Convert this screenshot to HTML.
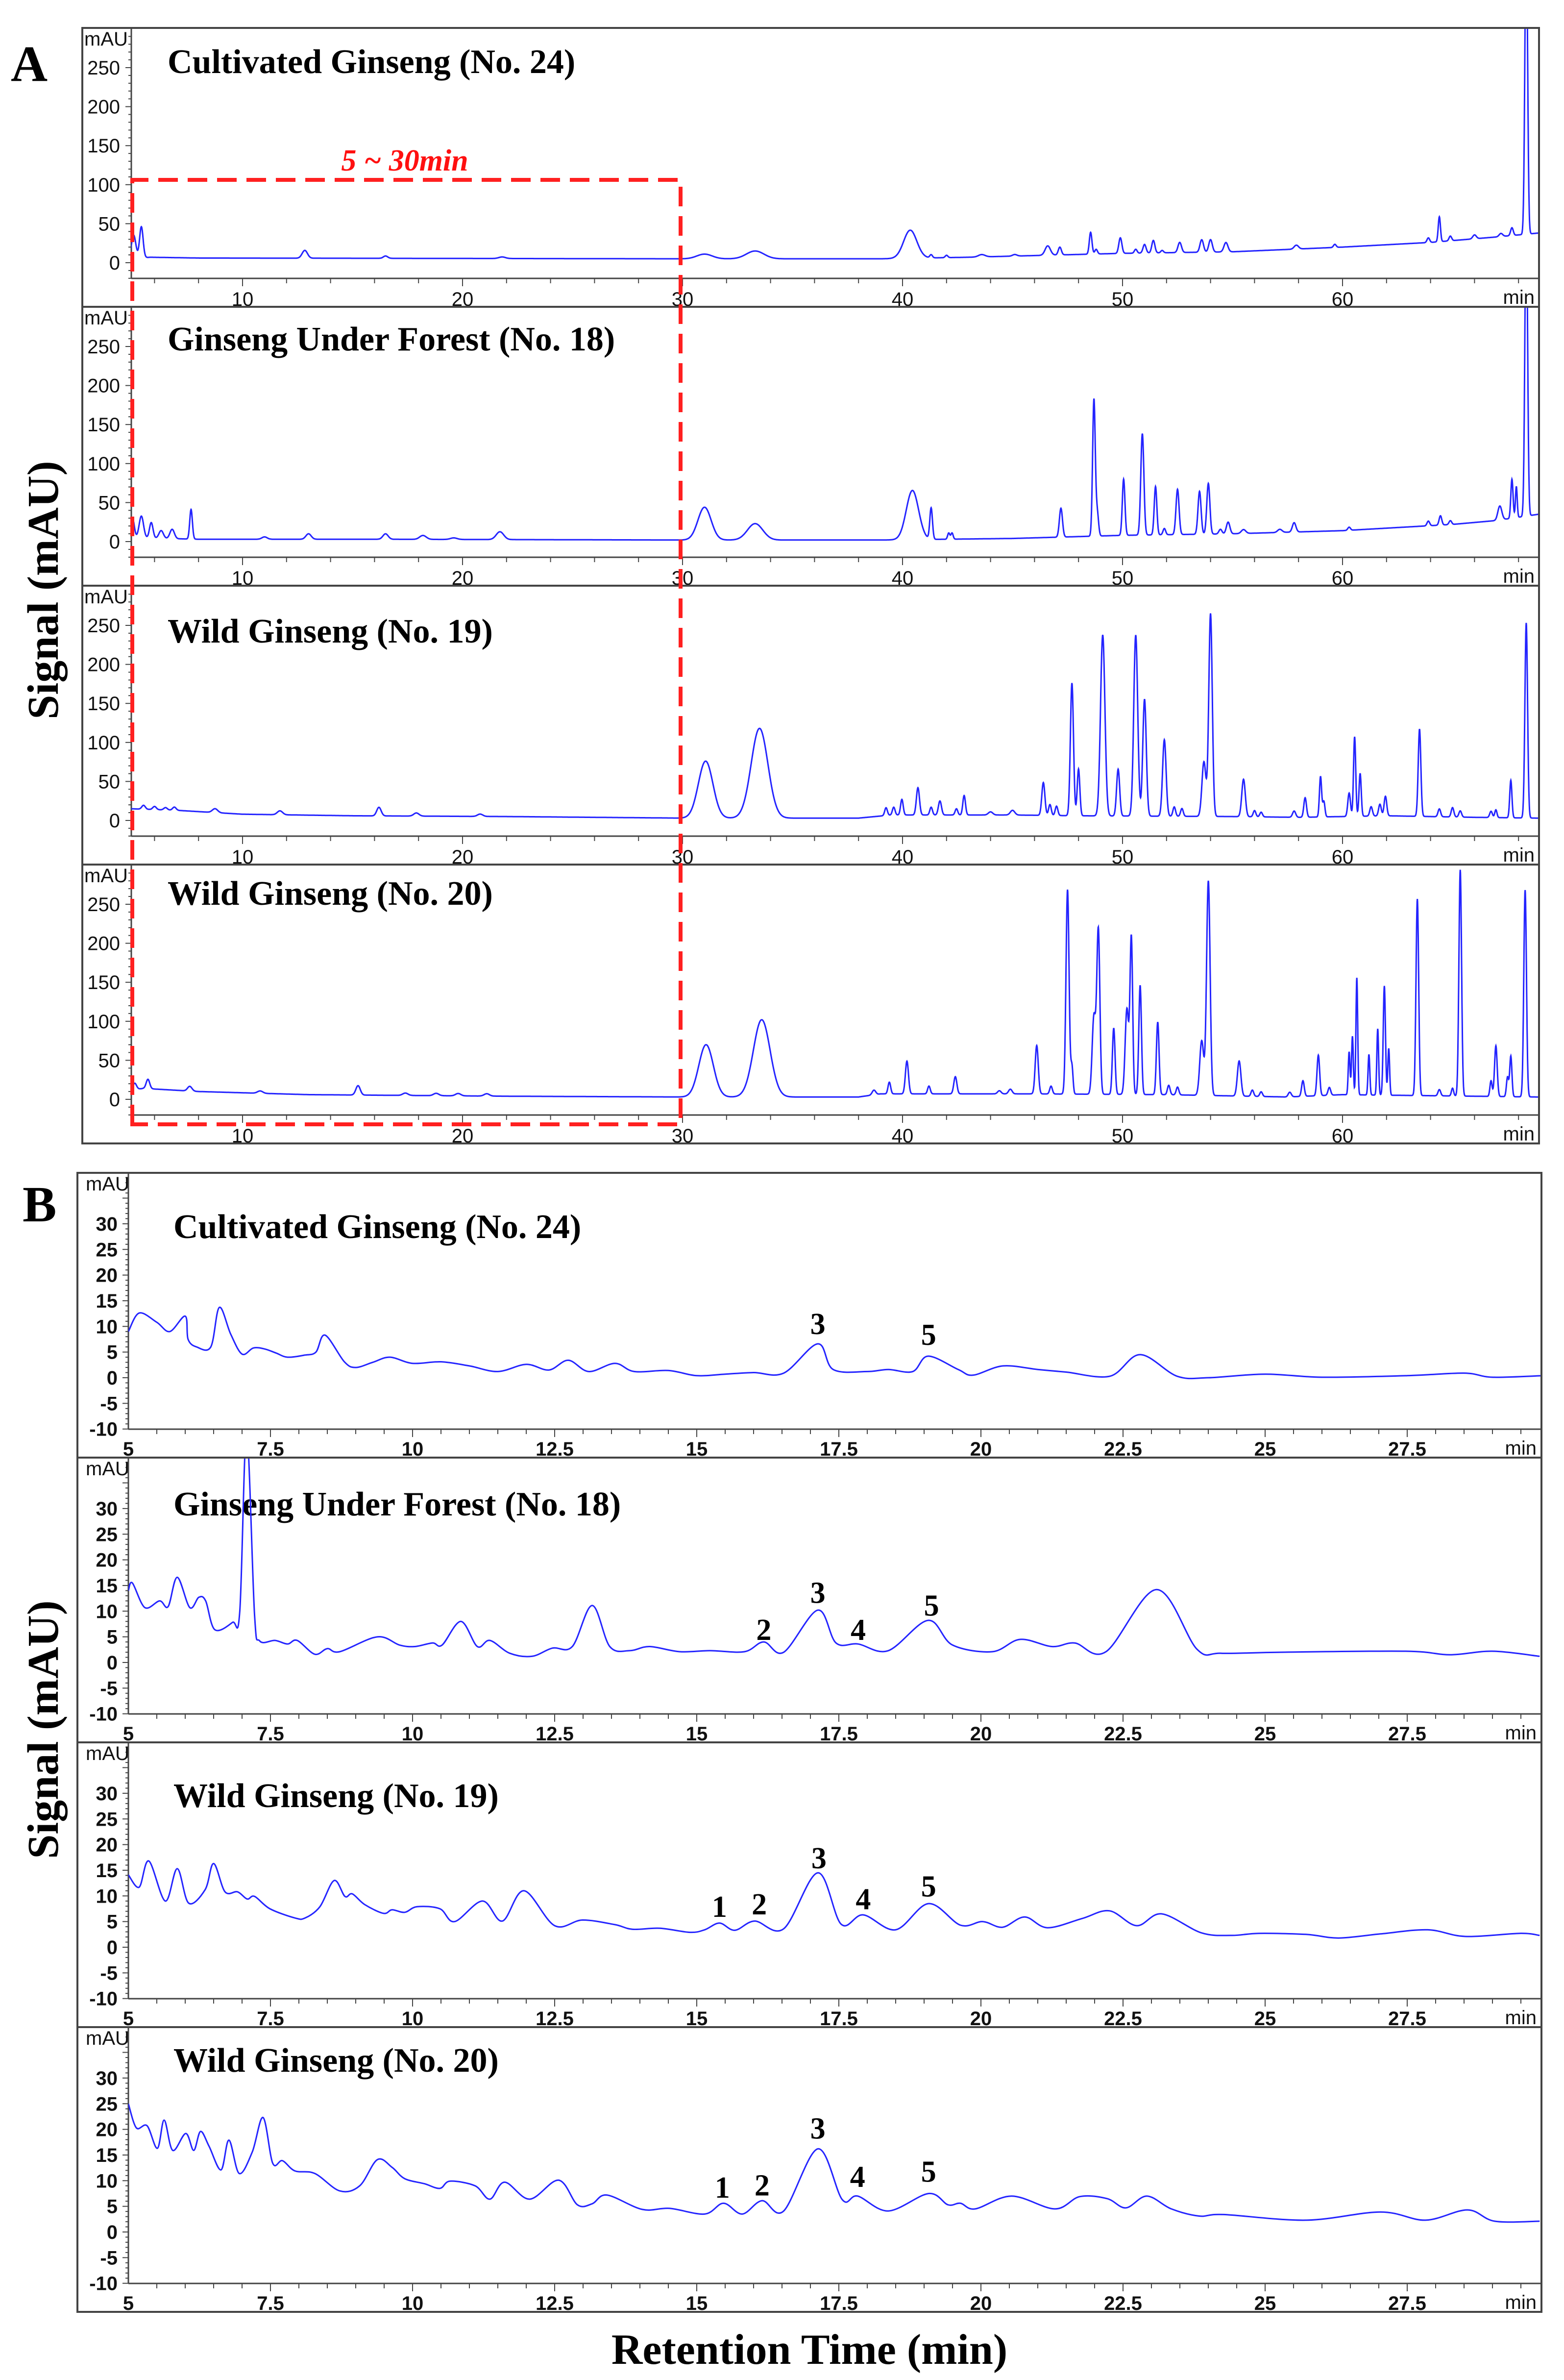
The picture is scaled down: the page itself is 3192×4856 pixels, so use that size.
<!DOCTYPE html>
<html><head><meta charset="utf-8">
<style>
html,body{margin:0;padding:0;background:#fff;}
svg{display:block;}
.tk{font-family:"Liberation Sans Narrow","Liberation Sans",sans-serif;font-size:40px;fill:#111;}
.ttl{font-family:"Liberation Serif",serif;font-weight:bold;font-size:70px;fill:#000;}
.num{font-family:"Liberation Serif",serif;font-weight:bold;font-size:62px;fill:#000;}
</style></head>
<body>
<svg id="chart" xmlns="http://www.w3.org/2000/svg" width="3192" height="4856" viewBox="0 0 3192 4856">
<rect x="0" y="0" width="3192" height="4856" fill="#fff"/>
<text x="22" y="165" font-family="Liberation Serif,serif" font-weight="bold" font-size="104">A</text>
<text x="46" y="2492" font-family="Liberation Serif,serif" font-weight="bold" font-size="104">B</text>
<text transform="translate(118,1204) rotate(-90)" text-anchor="middle" font-family="Liberation Serif,serif" font-weight="bold" font-size="90">Signal (mAU)</text>
<text transform="translate(118,3529) rotate(-90)" text-anchor="middle" font-family="Liberation Serif,serif" font-weight="bold" font-size="90">Signal (mAU)</text>
<text x="1652" y="4823" text-anchor="middle" font-family="Liberation Serif,serif" font-weight="bold" font-size="88">Retention Time (min)</text>
</svg>
<script>
// ---------- Panel A data (peaks: time, height above baseline, width sigma) ----------
const aTitles = ["Cultivated Ginseng (No. 24)","Ginseng Under Forest (No. 18)","Wild Ginseng (No. 19)","Wild Ginseng (No. 20)"];
const aTitleY = [149,715,1311,1846];
const aYTicks = [0,50,100,150,200,250];
const aXTicks = [10,20,30,40,50,60];

const a1BaseT = [4.9,5.8,8,30,39,43,50,55,60,64,67,68.9];
const a1BaseV = [5,7,6,5,5,7,12,14,20,26,33,38];
const a1PeakT = [5.05,5.4,12.83,16.5,21.8,31.0,33.3,40.35,41.3,42.0,43.6,45.1,46.6,47.15,48.55,48.8,49.9,50.6,51.0,51.4,51.8,52.6,53.6,54.0,54.7,57.9,59.65,63.9,64.4,64.9,66.0,67.2,67.7,68.35];
const a1PeakH = [30,40,10,3,2,6,10,36,4,3,3,2,12,10,28,6,20,5,11,16,3,13,16,16,12,5,4,6,32,6,5,4,10,400];
const a1PeakW = [.1,.08,.12,.1,.15,.35,.4,.3,.06,.06,.15,.1,.12,.07,.06,.06,.07,.06,.07,.07,.06,.08,.08,.08,.09,.1,.06,.06,.05,.06,.08,.08,.06,.06];

const a2BaseT = [4.9,8,16,30,39,45,50,55,60,65,67,68.9];
const a2BaseV = [5,3,3,2,2,4,8,10,14,22,27,35];
const a2PeakT = [5.0,5.4,5.85,6.3,6.8,7.66,11.0,13.0,16.5,18.2,19.6,21.7,31.0,33.3,40.45,41.3,42.1,42.25,47.2,48.7,48.85,50.05,50.9,51.5,51.9,52.5,53.5,53.9,54.45,54.8,55.5,57.15,57.8,60.3,63.9,64.45,64.9,67.15,67.7,67.9,68.35];
const a2PeakH = [25,28,20,10,12,38,3,7,7,5,2,10,42,21,63,40,8,8,37,175,30,72,130,62,8,58,55,65,6,15,5,4,12,4,6,12,5,18,50,40,400];
const a2PeakW = [.08,.1,.08,.1,.1,.06,.12,.12,.12,.15,.15,.17,.3,.35,.28,.06,.05,.05,.07,.06,.06,.06,.07,.06,.06,.07,.07,.07,.07,.08,.1,.1,.08,.06,.06,.06,.06,.09,.05,.04,.06];

const a3BaseT = [4.9,7,10,15,22,30,38,39.5,45,48,55,58,62,66,68.9];
const a3BaseV = [15,13,8,6,5,3,3,7,7,6,5,4,6,4,3];
const a3PeakT = [5.5,6.0,6.5,6.9,8.75,11.7,16.2,17.9,20.8,31.05,33.5,39.25,39.6,39.97,40.7,41.3,41.7,42.45,42.8,44.0,45.0,46.4,46.7,47.0,47.7,48.0,49.1,49.8,50.6,51.0,51.9,52.35,52.7,53.7,54.0,55.5,56.0,56.3,57.8,58.3,59.0,59.15,60.3,60.55,60.8,61.3,61.7,61.95,63.5,64.4,65.0,65.35,66.75,66.97,67.65,68.35];
const a3PeakH = [5,4,3,4,5,5,11,4,3,73,115,10,10,20,35,10,18,8,25,4,6,42,14,12,170,60,232,60,232,150,98,12,10,70,260,48,8,6,8,25,52,20,30,102,55,12,15,25,112,10,12,8,8,10,48,250];
const a3PeakW = [.08,.08,.08,.08,.12,.12,.1,.12,.12,.33,.38,.06,.06,.06,.07,.06,.07,.06,.06,.1,.1,.07,.06,.06,.07,.06,.1,.07,.09,.08,.08,.06,.06,.09,.08,.08,.06,.06,.07,.06,.05,.05,.06,.05,.05,.06,.06,.06,.06,.06,.06,.06,.06,.05,.05,.06];

const a4BaseT = [4.9,5.5,8,13,22,30,38,39,46,52,57.5,60,63,68.9];
const a4BaseV = [12,14,10,6,4,3,3,7,7,6,3,6,5,3];
const a4PeakT = [5.1,5.7,7.6,10.8,15.25,17.4,18.8,19.8,21.1,31.07,33.6,38.7,39.4,40.2,41.2,42.4,44.4,44.9,46.1,46.75,47.5,47.7,48.7,48.9,49.6,50.2,50.4,50.8,51.6,52.1,52.5,53.6,53.9,55.3,55.9,56.3,57.6,58.2,58.9,59.4,60.3,60.45,60.65,61.2,61.6,61.9,62.1,63.4,64.4,65.0,65.35,66.75,66.97,67.5,67.65,68.3];
const a4PeakH = [8,12,6,3,12,3,3,3,3,67,99,6,15,42,10,22,4,6,62,10,262,35,100,210,85,110,200,140,93,12,10,70,275,45,8,6,6,20,52,10,55,75,150,52,85,140,60,252,8,10,290,20,65,25,52,265];
const a4PeakW = [.08,.08,.1,.12,.1,.12,.12,.12,.12,.33,.38,.08,.06,.07,.06,.07,.08,.08,.07,.06,.07,.05,.08,.07,.06,.08,.06,.06,.06,.06,.06,.09,.08,.08,.06,.06,.07,.06,.06,.06,.04,.04,.04,.04,.04,.05,.04,.06,.06,.05,.06,.05,.06,.05,.05,.06];

// ---------- Panel B data (knots: time, signal) ----------
const bTitles = ["Cultivated Ginseng (No. 24)","Ginseng Under Forest (No. 18)","Wild Ginseng (No. 19)","Wild Ginseng (No. 20)"];
const bTitleY = [2526,3092,3687,4227];
const bYTicks = [-10,-5,0,5,10,15,20,25,30];
const bXTicks = [5,7.5,10,12.5,15,17.5,20,22.5,25,27.5];

const b1T = [5.0,5.19,5.5,5.73,6.0,6.05,6.2,6.45,6.6,6.8,7.0,7.2,7.4,7.6,7.8,8.1,8.3,8.46,8.8,9.0,9.3,9.6,10.0,10.5,11.0,11.5,12.0,12.4,12.74,13.1,13.56,13.9,14.5,15.0,15.5,16.0,16.53,17.13,17.4,18.0,18.37,18.8,19.07,19.6,19.86,20.39,21.0,21.5,22.27,22.8,23.45,24.0,25.0,26.0,27.5,28.5,29.0,29.9];
const b1V = [9,12.6,10.8,9,12,7.5,6,6,13.7,8.5,4.6,5.8,5.6,4.8,4,4.4,5,8.3,3.1,2,3,4,2.8,3.1,2.3,1.2,2.6,1.5,3.4,1.2,2.8,1.2,1.4,0.4,0.7,1,0.9,6.6,1.6,1.2,1.6,1.2,4.2,1.6,0.5,2.3,1.6,1.1,0.3,4.5,0.3,0,0.7,0.1,0.4,0.9,0.1,0.4];

const b2T = [5.0,5.07,5.29,5.55,5.7,5.86,6.08,6.24,6.36,6.52,6.83,6.96,7.08,7.22,7.31,7.58,7.8,7.97,8.28,8.5,8.72,9.38,9.77,10.04,10.35,10.52,10.85,11.14,11.36,11.71,12.1,12.46,12.81,13.16,13.47,13.82,14.17,14.7,15.23,15.84,16.18,16.53,17.13,17.45,17.84,18.37,19.07,19.5,20.2,20.69,21.25,21.65,22.2,23.09,23.8,24.23,25.28,27.47,28.25,29.0,29.83];
const b2V = [14,15.5,10.7,12,10.9,16.6,10.7,12.7,12,6.4,7.8,10,45,9.3,4.2,4.3,3.6,4.3,1.6,2.7,2.1,5,3.4,3.1,3.8,3.4,8,3.1,4.3,1.8,1.2,2.8,3.1,11.1,3.1,2.3,3.1,2.1,2.3,2.1,4,2,10.2,3.8,3.6,2.3,8.2,3.4,2.1,4.5,3.1,3.8,2.1,14.2,2.6,1.8,2,2.2,1.5,2.2,1.2];

const b3T = [5.0,5.19,5.36,5.65,5.86,6.06,6.35,6.5,6.7,6.92,7.09,7.22,7.49,7.93,8.11,8.37,8.62,8.81,8.94,9.16,9.49,9.64,9.86,10.08,10.48,10.74,11.23,11.58,11.96,12.5,12.99,13.56,13.87,14.35,14.88,15.14,15.4,15.67,16.02,16.53,17.13,17.54,17.93,18.5,19.08,19.64,20.03,20.38,20.77,21.17,21.78,22.26,22.74,23.18,23.88,24.41,24.89,25.72,26.29,27.03,27.86,28.52,29.48,29.83];
const b3V = [14.1,11.7,16.8,9,15.3,8.6,11.2,16.3,10.8,10.8,9.4,9.9,7.5,5.7,5.7,7.9,13,9.9,10.4,8.3,6.6,7.3,6.8,7.9,7.5,5,9,5.1,11,4.2,5.3,4.4,3.5,3.7,2.9,3.4,4.7,3.3,5.1,3.6,14.5,4.5,6.3,3.4,8.5,4.3,5,3.9,5.9,3.8,5.6,7.1,4.2,6.5,2.8,2.3,2.7,2.5,1.8,2.6,3.4,2.1,2.7,2.3];

const b4T = [5.0,5.14,5.33,5.51,5.63,5.78,6.01,6.15,6.27,6.42,6.63,6.77,6.95,7.18,7.37,7.54,7.71,7.93,8.28,8.72,9.07,9.38,9.64,9.86,10.21,10.48,10.66,11.1,11.36,11.62,12.06,12.57,12.9,13.16,13.42,14.04,14.52,15.14,15.47,15.8,16.15,16.53,17.13,17.56,17.83,18.37,19.08,19.42,19.64,19.9,20.54,21.3,21.74,22.22,22.55,22.92,23.35,23.84,24.27,25.72,27.03,27.82,28.56,29.04,29.83];
const b4V = [25,20.3,20.7,16.3,21.8,15.9,19.2,15.9,19.6,16.7,12.1,17.9,11.4,15.6,22.3,13.4,13.9,11.9,11.4,8,9,14.1,12.6,10.4,9.4,8.5,9.9,9,6.4,9.7,6.4,10.1,5.3,5.5,7.2,4.4,4.6,3.5,5.6,3.5,6.1,4.1,16.2,6.3,7,4.1,7.5,5.3,5.6,4.5,7,4.5,6.9,6.5,4.7,7,4.5,3.1,3.4,2.3,3.9,2.3,4.3,2.1,2.1];

const bLabels = [["3","5"],["2","3","4","5"],["1","2","3","4","5"],["1","2","3","4","5"]];
const bLabelT = [[17.13,19.08],[16.18,17.13,17.84,19.13],[15.4,16.1,17.15,17.93,19.08],[15.45,16.15,17.13,17.83,19.08]];
const bLabelV = [[10.6,8.5],[6.5,13.7,6.5,11.2],[8,8.5,17.5,9.5,12],[8.8,9.2,20.3,10.9,11.9]];

// ---------- helpers ----------
const NS = "http://www.w3.org/2000/svg";
const svg = document.getElementById('chart');
function mk(tag, parent){ const e=document.createElementNS(NS,tag); (parent||svg).appendChild(e); return e; }
function interp(T,V,t){ if(t<=T[0]) return V[0]; for(let i=1;i<T.length;i++){ if(t<=T[i]){ const f=(t-T[i-1])/(T[i]-T[i-1]); return V[i-1]+f*(V[i]-V[i-1]); } } return V[V.length-1]; }
function line(x1,y1,x2,y2,w,c,parent){ const l=mk('line',parent); l.setAttribute('x1',x1);l.setAttribute('y1',y1);l.setAttribute('x2',x2);l.setAttribute('y2',y2);l.setAttribute('stroke',c||'#444');l.setAttribute('stroke-width',w||3); return l; }

// ---------- Panel A ----------
const A = {left:268,right:3141,boxL:168,top0:57,pitch:569,zero0:536,axis0:568,ppu:1.592,t0:4.9,t1:68.9};
const xA = t => 495+(t-10)*44.9;
const aBase = [[a1BaseT,a1BaseV],[a2BaseT,a2BaseV],[a3BaseT,a3BaseV],[a4BaseT,a4BaseV]];
const aPeaks = [[a1PeakT,a1PeakH,a1PeakW],[a2PeakT,a2PeakH,a2PeakW],[a3PeakT,a3PeakH,a3PeakW],[a4PeakT,a4PeakH,a4PeakW]];

const defs = mk('defs');
const boxA = mk('rect');


boxA.setAttribute('x',A.boxL);boxA.setAttribute('y',A.top0);boxA.setAttribute('width',A.right-A.boxL);boxA.setAttribute('height',4*A.pitch);
boxA.setAttribute('fill','none');boxA.setAttribute('stroke','#444');boxA.setAttribute('stroke-width',4);

for(let i=0;i<4;i++){
  const top=A.top0+i*A.pitch, zero=A.zero0+i*A.pitch, axisY=A.axis0+i*A.pitch;
  const yA = v => zero - v*A.ppu;
  const g = mk('g');
  
  
  if(i>0){ const s=line(A.boxL,top,A.right,top,4,'#444',g);   }
  line(A.left,top,A.left,axisY,3,'#444',g);
  line(A.left,axisY,A.right,axisY,3,'#444',g);
  for(let v=-20; v<=300; v+=10){ const y=yA(v); if(y<top+2||y>axisY) continue; line(A.left-(v%50===0?12:6),y,A.left,y,2,'#444',g); }
  aYTicks.forEach(v=>{ const t=mk('text',g); t.setAttribute('class','tk'); t.setAttribute('x',245); t.setAttribute('y',yA(v)+14); t.setAttribute('text-anchor','end'); t.textContent=v;
      });
  const mau=mk('text',g); mau.setAttribute('class','tk'); mau.setAttribute('x',172); mau.setAttribute('y',top+36); mau.setAttribute('font-size','30'); mau.textContent='mAU';
   
  for(let t=6;t<=68;t+=2){ line(xA(t),axisY,xA(t),axisY+(t%10===0?16:10),2,'#444',g); }
  aXTicks.forEach(v=>{ const t=mk('text',g); t.setAttribute('class','tk'); t.setAttribute('x',xA(v)); t.setAttribute('y',axisY+56); t.setAttribute('text-anchor','middle'); t.textContent=v;
      });
  const mn=mk('text',g); mn.setAttribute('class','tk'); mn.setAttribute('x',3132); mn.setAttribute('y',axisY+52); mn.setAttribute('text-anchor','end'); mn.setAttribute('font-size','32'); mn.textContent='min';
   
  const tt=mk('text',g); tt.setAttribute('class','ttl'); tt.setAttribute('x',342); tt.setAttribute('y',aTitleY[i]); tt.textContent=aTitles[i];
   
  const cp=mk('clipPath',defs); cp.setAttribute('id','clipA'+i);
  const cr=mk('rect',cp); cr.setAttribute('x',A.left); cr.setAttribute('y',top+2); cr.setAttribute('width',A.right-A.left-2); cr.setAttribute('height',axisY-top-2);
  const [BT,BV]=aBase[i]; const [PT,PH,PW]=aPeaks[i];
  let d='';
  for(let t=A.t0;t<=A.t1+1e-9;t+=0.01){
    let v=interp(BT,BV,t);
    for(let k=0;k<PT.length;k++){ const z=(t-PT[k])/PW[k]; if(Math.abs(z)<6) v+=PH[k]*Math.exp(-0.5*z*z); }
    d+=(d?'L':'M')+xA(t).toFixed(1)+','+yA(v).toFixed(1);
  }
  const p=mk('path',g); p.setAttribute('d',d); p.setAttribute('fill','none'); p.setAttribute('stroke','#2424ff'); p.setAttribute('stroke-width',3); p.setAttribute('clip-path','url(#clipA'+i+')');
   
}
const hl = mk('path');


hl.setAttribute('d','M270,2294 L270,367 L1389,367 L1389,2294 Z');
hl.setAttribute('fill','none'); hl.setAttribute('stroke','#ff2020'); hl.setAttribute('stroke-width',8); hl.setAttribute('stroke-dasharray','40,20');
const hlt = mk('text');


hlt.setAttribute('x',826); hlt.setAttribute('y',348); hlt.setAttribute('text-anchor','middle');
hlt.setAttribute('font-family','Liberation Serif,serif'); hlt.setAttribute('font-weight','bold'); hlt.setAttribute('font-style','italic'); hlt.setAttribute('font-size','62'); hlt.setAttribute('fill','#ff1010');
hlt.textContent='5 ~ 30min';

// ---------- Panel B ----------
const B = {left:262,right:3146,boxL:158,top0:2393,pitch:581,zero0:2811,axis0:2916,ppu:10.47};
const xB = t => 262+(t-5)*116;
const bData = [[b1T,b1V],[b2T,b2V],[b3T,b3V],[b4T,b4V]];
const boxB = mk('rect');


boxB.setAttribute('x',B.boxL);boxB.setAttribute('y',B.top0);boxB.setAttribute('width',B.right-B.boxL);boxB.setAttribute('height',4*B.pitch);
boxB.setAttribute('fill','none');boxB.setAttribute('stroke','#444');boxB.setAttribute('stroke-width',4);

for(let i=0;i<4;i++){
  const top=B.top0+i*B.pitch, zero=B.zero0+i*B.pitch, axisY=B.axis0+i*B.pitch;
  const yB = v => zero - v*B.ppu;
  const g = mk('g');
  
  
  if(i>0){ const s=line(B.boxL,top,B.right,top,4,'#444',g);   }
  line(B.left,top,B.left,axisY,3,'#444',g);
  line(B.left,axisY,B.right,axisY,3,'#444',g);
  for(let v=-10; v<=40; v+=1){ const y=yB(v); if(y<top+4) continue; line(B.left-(v%5===0?12:6),y,B.left,y,2,'#444',g); }
  bYTicks.forEach(v=>{ const t=mk('text',g); t.setAttribute('class','tk'); t.setAttribute('x',240); t.setAttribute('y',yB(v)+14); t.setAttribute('text-anchor','end'); t.setAttribute('font-weight','bold'); t.textContent=v;
      });
  const mau=mk('text',g); mau.setAttribute('class','tk'); mau.setAttribute('x',175); mau.setAttribute('y',top+36); mau.setAttribute('font-size','30'); mau.textContent='mAU';
   
  for(let t=5.5;t<=29.9;t+=0.5){ line(xB(t),axisY,xB(t),axisY+(Math.abs(t/2.5-Math.round(t/2.5))<1e-6?16:10),2,'#444',g); }
  bXTicks.forEach(v=>{ const t=mk('text',g); t.setAttribute('class','tk'); t.setAttribute('x',xB(v)); t.setAttribute('y',axisY+54); t.setAttribute('text-anchor','middle'); t.setAttribute('font-weight','bold'); t.textContent=v;
      });
  const mn=mk('text',g); mn.setAttribute('class','tk'); mn.setAttribute('x',3136); mn.setAttribute('y',axisY+52); mn.setAttribute('text-anchor','end'); mn.setAttribute('font-size','32'); mn.textContent='min';
   
  const tt=mk('text',g); tt.setAttribute('class','ttl'); tt.setAttribute('x',354); tt.setAttribute('y',bTitleY[i]); tt.textContent=bTitles[i];
   
  const cp=mk('clipPath',defs); cp.setAttribute('id','clipB'+i);
  const cr=mk('rect',cp); cr.setAttribute('x',B.left); cr.setAttribute('y',top+2); cr.setAttribute('width',B.right-B.left-2); cr.setAttribute('height',axisY-top-2);
  const [T,V]=bData[i];
  const P=T.map((t,k)=>[xB(t),yB(V[k])]);
  let d='M'+P[0][0].toFixed(1)+','+P[0][1].toFixed(1);
  for(let k=0;k<P.length-1;k++){
    const p0=P[Math.max(0,k-1)], p1=P[k], p2=P[k+1], p3=P[Math.min(P.length-1,k+2)];
    const c1=[p1[0]+(p2[0]-p0[0])/6, p1[1]+(p2[1]-p0[1])/6];
    const c2=[p2[0]-(p3[0]-p1[0])/6, p2[1]-(p3[1]-p1[1])/6];
    d+='C'+c1[0].toFixed(1)+','+c1[1].toFixed(1)+' '+c2[0].toFixed(1)+','+c2[1].toFixed(1)+' '+p2[0].toFixed(1)+','+p2[1].toFixed(1);
  }
  const p=mk('path',g); p.setAttribute('d',d); p.setAttribute('fill','none'); p.setAttribute('stroke','#2424ff'); p.setAttribute('stroke-width',3); p.setAttribute('clip-path','url(#clipB'+i+')');
   
  bLabels[i].forEach((lab,k)=>{ const t=mk('text',g); t.setAttribute('class','num'); t.setAttribute('x',xB(bLabelT[i][k])); t.setAttribute('y',yB(bLabelV[i][k])+22); t.setAttribute('text-anchor','middle'); t.textContent=lab;
      });
}
</script>
</body></html>
